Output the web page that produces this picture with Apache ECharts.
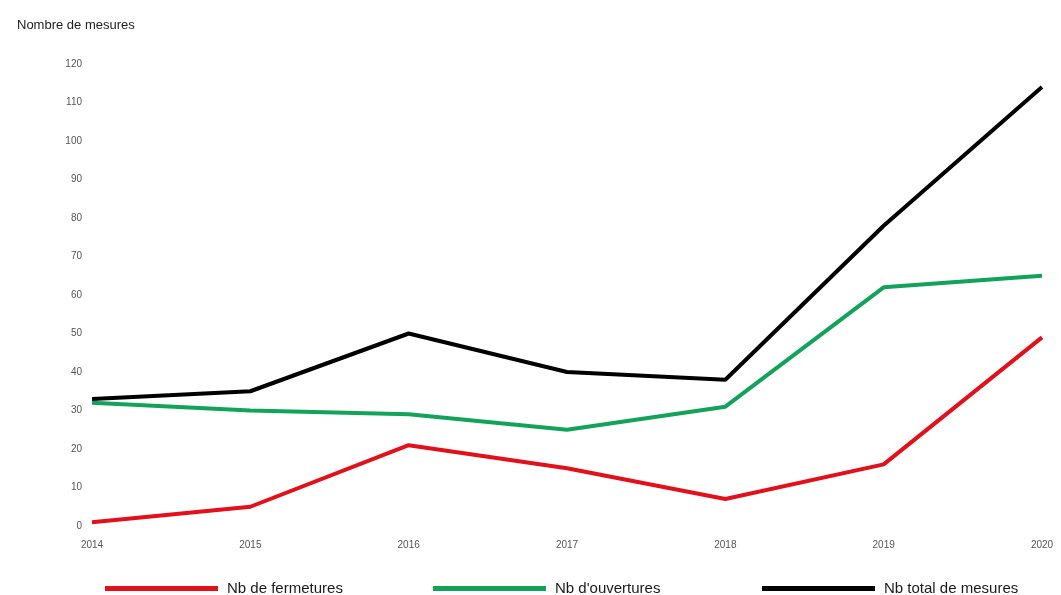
<!DOCTYPE html>
<html>
<head>
<meta charset="utf-8">
<script src="https://cdn.jsdelivr.net/npm/echarts@6/dist/echarts.min.js"></script>
<style>html,body{margin:0;padding:0;background:#fff}#c{width:1061px;height:595px}</style>
</head>
<body>
<div id="c"></div>
<script>
const years = ['2014','2015','2016','2017','2018','2019','2020'];
const fermetures = [1, 5, 21, 15, 7, 16, 49];
const ouvertures = [32, 30, 29, 25, 31, 62, 65];
const total = [33, 35, 50, 40, 38, 78, 114];
const seriesNames = ['Nb de fermetures', "Nb d'ouvertures", 'Nb total de mesures'];
const colors = ['#e3101a', '#12a35a', '#000000'];
const yTitle = 'Nombre de mesures';

const chart = echarts.init(document.getElementById('c'));
const dataSets = [fermetures, ouvertures, total];
const legendLefts = [100, 428, 757];
chart.setOption({
  animation: false,
  backgroundColor: '#fff',
  textStyle: {fontFamily: 'Liberation Sans, Arial, sans-serif'},
  title: {
    text: yTitle, left: 12, top: 14,
    textStyle: {fontSize: 13, fontWeight: 'normal', color: '#222'}
  },
  grid: {left: 92, right: 19, top: 64, bottom: 69},
  legend: seriesNames.map((n, i) => ({
    data: [n], left: legendLefts[i], top: 576,
    icon: 'rect', itemWidth: 113, itemHeight: 5, itemGap: 8,
    textStyle: {fontSize: 15, color: '#1a1a1a', padding: [0, 0, 0, 4]}
  })),
  xAxis: {
    type: 'category', data: years, boundaryGap: false,
    axisLine: {show: false}, axisTick: {show: false},
    axisLabel: {fontSize: 10, color: '#555', margin: 14}
  },
  yAxis: {
    type: 'value', min: 0, max: 120, interval: 10,
    axisLine: {show: false}, axisTick: {show: false}, splitLine: {show: false},
    axisLabel: {fontSize: 10, color: '#555', margin: 10}
  },
  series: dataSets.map((d, i) => ({
    name: seriesNames[i], type: 'line', data: d,
    showSymbol: false, symbol: 'none',
    lineStyle: {width: 4, color: colors[i]},
    itemStyle: {color: colors[i]},
    z: i === 2 ? 3 : 2
  }))
});
</script>
</body>
</html>
